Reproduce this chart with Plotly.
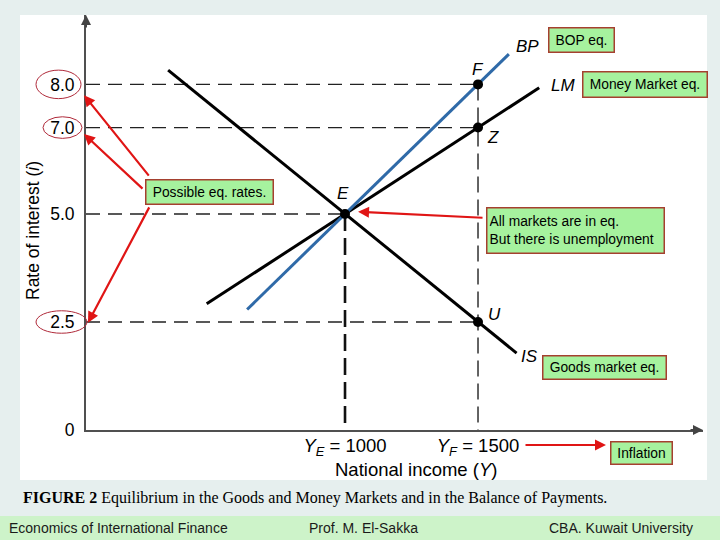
import plotly.graph_objects as go

# ---- data ----
x_range = [26.3, 2345.8]
y_range = [0, 9.606]

is_x = [335, 1000, 1500, 1645]
is_y = [8.33, 5.0, 2.5, 1.78]
lm_x = [480, 1000, 1500, 1730]
lm_y = [2.92, 5.0, 7.0, 7.92]
bp_x = [632, 1000, 1500, 1616]
bp_y = [2.79, 5.0, 8.0, 8.70]

pt_names = ["E", "F", "Z", "U"]
pt_x = [1000, 1500, 1500, 1500]
pt_y = [5.0, 8.0, 7.0, 2.5]

y_ticks = [0, 2.5, 5.0, 7.0, 8.0]
y_ticktext = ["0", "2.5", "5.0", "7.0", "8.0"]
x_ticks = [1000, 1500]
x_ticktext = ["<i>Y</i><sub><i>E</i></sub> = 1000", "<i>Y</i><sub><i>F</i></sub> = 1500"]

# plot area in pixels
L, R, T, B = 86, 703, 15, 430
W, H = R - L, B - T
def px(xp): return (xp - L) / W
def py(yp): return (B - yp) / H

SANS = "Liberation Sans, Arial, sans-serif"
SERIF = "Liberation Serif, Times New Roman, serif"

fig = go.Figure()

# dashed guides
dash_h = "14px,8px"
for xv, yv in [(1500, 8.0), (1500, 7.0), (1000, 5.0), (1500, 2.5)]:
    fig.add_trace(go.Scatter(x=[x_range[0], xv], y=[yv, yv], mode="lines",
                             line=dict(color="#222", width=1.3, dash=dash_h),
                             hoverinfo="skip", showlegend=False))
fig.add_trace(go.Scatter(x=[1000, 1000], y=[5.0, 0], mode="lines",
                         line=dict(color="#111", width=2.6, dash="17px,7px"),
                         hoverinfo="skip", showlegend=False))
fig.add_trace(go.Scatter(x=[1500, 1500], y=[8.0, 0], mode="lines",
                         line=dict(color="#222", width=1.4, dash="16px,7px"),
                         hoverinfo="skip", showlegend=False))

# curves
fig.add_trace(go.Scatter(x=is_x, y=is_y, mode="lines", line=dict(color="black", width=3), showlegend=False))
fig.add_trace(go.Scatter(x=lm_x, y=lm_y, mode="lines", line=dict(color="black", width=3), showlegend=False))
fig.add_trace(go.Scatter(x=bp_x, y=bp_y, mode="lines", line=dict(color="#2f6aa8", width=3), showlegend=False))
fig.add_trace(go.Scatter(x=pt_x, y=pt_y, mode="markers", marker=dict(color="black", size=10), showlegend=False))

shapes = []
# white panel
shapes.append(dict(type="rect", xref="paper", yref="paper", x0=px(20), x1=px(707), y0=py(480), y1=py(15),
                   fillcolor="white", line=dict(width=0), layer="below"))
# bottom strip
shapes.append(dict(type="rect", xref="paper", yref="paper", x0=px(-5), x1=px(725), y0=py(545), y1=py(516),
                   fillcolor="#cdf3c9", line=dict(width=0), layer="below"))
# ellipses around tick labels
for (x0, x1, yv, hh) in [(36, 81, 8.0, 0.33), (43, 82, 7.0, 0.25), (36, 87, 2.5, 0.26)]:
    shapes.append(dict(type="circle", xref="paper", yref="y", x0=px(x0), x1=px(x1),
                       y0=yv - hh, y1=yv + hh, line=dict(color="#b02a3a", width=1)))

ann = []
C = dict(xanchor="center", yanchor="middle")
# point labels
lab_font = dict(family=SANS, size=17, color="black")
for name, xv, yv, xs, ys in [("E", 1000, 5.0, -2, 20), ("F", 1500, 8.0, 0, 15),
                             ("Z", 1500, 7.0, 15, -10), ("U", 1500, 2.5, 16, 7)]:
    ann.append(dict(x=xv, y=yv, text=f"<i>{name}</i>", showarrow=False, xshift=xs, yshift=ys, font=lab_font, **C))
ann.append(dict(x=bp_x[-1], y=bp_y[-1], text="<i>BP</i>", showarrow=False, xshift=19, yshift=8, font=lab_font, **C))
ann.append(dict(x=lm_x[-1], y=lm_y[-1], text="<i>LM</i>", showarrow=False, xshift=24, yshift=2, font=lab_font, **C))
ann.append(dict(x=is_x[-1], y=is_y[-1], text="<i>IS</i>", showarrow=False, xshift=13, yshift=-3, font=lab_font, **C))

# axis titles
ann.append(dict(xref="paper", yref="paper", x=px(416), y=py(469), text="National income (<i>Y</i>)",
                showarrow=False, font=dict(family=SANS, size=18.5, color="black"), **C))
ann.append(dict(xref="paper", yref="paper", x=px(33), y=py(231), text="Rate of interest (<i>i</i>)",
                showarrow=False, textangle=-90, font=dict(family=SANS, size=17.5, color="black"), **C))

# axis arrowheads
ann.append(dict(xref="paper", yref="paper", x=0, y=py(15), ax=0, ay=14, text="", showarrow=True,
                arrowhead=2, arrowsize=1, arrowwidth=2, arrowcolor="#444"))
ann.append(dict(xref="paper", yref="paper", x=1, y=0, ax=-14, ay=0, text="", showarrow=True,
                arrowhead=2, arrowsize=1, arrowwidth=2, arrowcolor="#444"))

# callout boxes
box_font = dict(family=SANS, size=13.8, color="black")
for text, cx, cy, w, h, al in [
    ("BOP eq.", 581, 39.5, 60, 19, "center"),
    ("Money Market eq.", 644.5, 84, 119, 20, "center"),
    ("Possible eq. rates.", 209, 191.5, 122, 19, "center"),
    ("All markets are in eq.<br>But there is unemployment", 575, 230, 172, 40, "left"),
    ("Goods market eq.", 604, 367, 118, 18, "center"),
    ("Inflation", 641, 452.5, 56, 17, "center"),
]:
    ann.append(dict(xref="paper", yref="paper", x=px(cx), y=py(cy), text=text, showarrow=False,
                    width=w, height=h, align=al, bgcolor="#a6f29e", bordercolor="#a5402f",
                    borderwidth=1.5, borderpad=2, font=box_font, **C))

# red arrows
red = "#e01515"
for x, y, xr, yr, ax, ay in [
    (px(84), 7.75, "paper", "y", 66, 82),
    (px(84), 6.85, "paper", "y", 60, 56),
    (px(88), 2.48, "paper", "y", 62, -117),
    (1049, 5.05, "x", "y", 126, 6),
    (px(606), py(445), "paper", "paper", -82, 0),
]:
    ann.append(dict(x=x, y=y, xref=xr, yref=yr, ax=ax, ay=ay, text="", showarrow=True,
                    arrowhead=2, arrowsize=1, arrowwidth=2.2, arrowcolor=red))

# caption and footer
ann.append(dict(xref="paper", yref="paper", x=px(21), y=py(498), xanchor="left", yanchor="middle",
                text="<b>FIGURE 2</b> Equilibrium in the Goods and Money Markets and in the Balance of Payments.",
                showarrow=False, font=dict(family=SERIF, size=16, color="black")))
foot_font = dict(family=SANS, size=14, color="#1a1a1a")
for text, xs in [("Economics of International Finance", 7), ("Prof. M. El-Sakka", 307),
                 ("CBA. Kuwait University", 547)]:
    ann.append(dict(xref="paper", yref="paper", x=px(xs), y=py(528), xanchor="left", yanchor="middle",
                    text=text, showarrow=False, font=foot_font))

fig.update_layout(
    width=720, height=540,
    margin=dict(l=L, r=720 - R, t=T, b=540 - B, pad=0),
    paper_bgcolor="#e6efee", plot_bgcolor="rgba(0,0,0,0)",
    shapes=shapes, annotations=ann, showlegend=False,
    xaxis=dict(range=x_range, showgrid=False, zeroline=False, showline=True, linecolor="#505050",
               linewidth=2, tickvals=x_ticks, ticktext=x_ticktext, ticks="", ticklabelstandoff=-2,
               tickfont=dict(family=SANS, size=18.5, color="black")),
    yaxis=dict(range=y_range, showgrid=False, zeroline=False, showline=True, linecolor="#505050",
               linewidth=2, tickvals=y_ticks, ticktext=y_ticktext, ticks="", ticklabelstandoff=6,
               tickfont=dict(family=SANS, size=17.5, color="black")),
)

fig.write_html("out.html", config={"displayModeBar": False},
               post_script="document.body.style.margin='0';document.body.style.overflow='hidden';")
